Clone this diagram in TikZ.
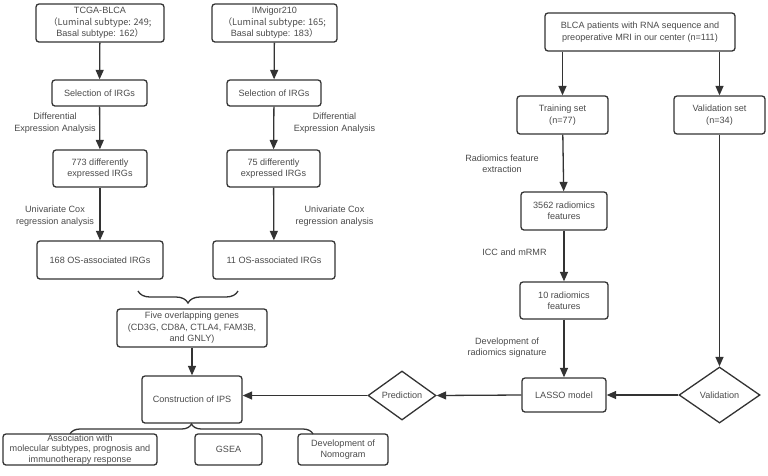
\documentclass[tikz,border=0pt]{standalone}
\usepackage{fontspec}
\setmainfont{Liberation Sans}
\newfontfamily\cjk{Noto Sans CJK SC}
\usetikzlibrary{arrows.meta, shapes.geometric, decorations.pathreplacing}
\definecolor{ln}{HTML}{333333}
\definecolor{tx}{HTML}{4A4A4A}
\newcommand{\fsz}{\fontsize{9.1}{11.4}\selectfont}
\tikzset{
box/.style={draw=ln, line width=1.3pt, rounded corners=3pt, align=center, text=tx, inner sep=0pt, font=\fsz},
dia/.style={diamond, draw=ln, line width=1.3pt, inner sep=0pt, aspect=1.4, text=tx, font=\fsz},
lbl/.style={align=center, text=tx, inner sep=0pt, font=\fsz},
arr/.style={draw=ln, line width=1.3pt, -{Triangle[length=9.5pt,width=8pt]}},
brc/.style={draw=ln, line width=1.3pt, decorate},
}

\begin{document}
\begin{tikzpicture}[x=1pt,y=-1pt]
\useasboundingbox (0,0) rectangle (768,475);
\node[box, minimum width=128, minimum height=38] (tcga) at (100,23) {TCGA-BLCA\\\cjk{（}Luminal subtype: 249;\\Basal subtype: 162\cjk{）}};
\node[box, minimum width=125, minimum height=38] (imv) at (274.5,23) {IMvigor210\\\cjk{（}Luminal subtype: 165;\\Basal subtype: 183\cjk{）}};
\node[box, minimum width=95, minimum height=26] (sel1) at (99.5,93) {Selection of IRGs};
\node[box, minimum width=94, minimum height=26] (sel2) at (274,93) {Selection of IRGs};
\node[box, minimum width=94, minimum height=37] (deg1) at (100,168.5) {773 differently\\expressed IRGs};
\node[box, minimum width=93, minimum height=37] (deg2) at (273.5,168.5) {75 differently\\expressed IRGs};
\node[box, minimum width=126, minimum height=38] (os1) at (100,260) {168 OS-associated IRGs};
\node[box, minimum width=122, minimum height=38] (os2) at (274,260) {11 OS-associated IRGs};
\node[box, minimum width=150, minimum height=38] (five) at (192,328) {Five overlapping genes\\(CD3G, CD8A, CTLA4, FAM3B,\\and GNLY)};
\node[box, minimum width=100, minimum height=47] (ips) at (192,399.5) {Construction of IPS};
\node[box, minimum width=154, minimum height=31, font=\fontsize{9.1}{10.4}\selectfont] (assoc) at (80,449.5) {Association with\\molecular subtypes, prognosis and\\immunotherapy response};
\node[box, minimum width=67, minimum height=31] (gsea) at (228.5,449.5) {GSEA};
\node[box, minimum width=90, minimum height=31] (nomo) at (343,449.5) {Development of\\Nomogram};
\node[dia, minimum width=68, minimum height=49] (pred) at (402,395.5) {Prediction};
\node[box, minimum width=84, minimum height=34] (lasso) at (564,395) {LASSO model};
\node[dia, minimum width=81, minimum height=56] (valid) at (719.5,395) {Validation};
\node[box, minimum width=190, minimum height=38] (blca) at (640,32) {BLCA patients with RNA sequence and\\preoperative MRI in our center (n=111)};
\node[box, minimum width=91, minimum height=38] (train) at (562.5,115) {Training set\\(n=77)};
\node[box, minimum width=91, minimum height=38] (vset) at (719.5,115) {Validation set\\(n=34)};
\node[box, minimum width=86, minimum height=38] (rad1) at (564,211) {3562 radiomics\\features};
\node[box, minimum width=88, minimum height=37] (rad2) at (564,300.5) {10 radiomics\\features};

\node[lbl] (dea1) at (55,123) {Differential\\Expression Analysis};
\node[lbl] (dea2) at (334.5,123) {Differential\\Expression Analysis};
\node[lbl] (cox1) at (55,216) {Univariate Cox\\regression analysis};
\node[lbl] (cox2) at (334.5,216) {Univariate Cox\\regression analysis};
\node[lbl] (extr) at (502,164) {Radiomics feature\\extraction};
\node[lbl] (icc) at (514.5,252) {ICC and mRMR};
\node[lbl] (sig) at (507,347.5) {Development of\\radiomics signature};

\coordinate (br1a) at (238,291);
\coordinate (br1b) at (138,291);
\coordinate (br2a) at (70,434);
\coordinate (br2b) at (313,434);

\draw[arr] (tcga) -- (sel1);
\draw[arr] (sel1) -- (deg1);
\draw[arr] (deg1) -- (os1);
\draw[arr] (imv) -- (sel2);
\draw[arr] (sel2) -- (deg2);
\draw[arr] (deg2) -- (os2);
\draw[brc, decoration={brace, amplitude=12pt}] (br1a) -- (br1b);
\draw[arr] (five.south) -- (ips.north);
\draw[brc, decoration={brace, amplitude=10pt}] (br2a) -- (br2b);
\draw[arr] (blca.south -| train) -- (train.north);
\draw[arr] (blca.south -| vset) -- (vset.north);
\draw[arr] (train) -- (rad1);
\draw[arr] (rad1) -- (rad2);
\draw[arr] (rad2) -- (lasso);
\draw[arr] (vset) -- (valid);
\draw[arr] (valid.west) -- (lasso.east);
\draw[arr] (lasso.west) -- (pred.east);
\draw[arr] (pred.west) -- (pred.west -| ips.east);
\end{tikzpicture}
\end{document}
